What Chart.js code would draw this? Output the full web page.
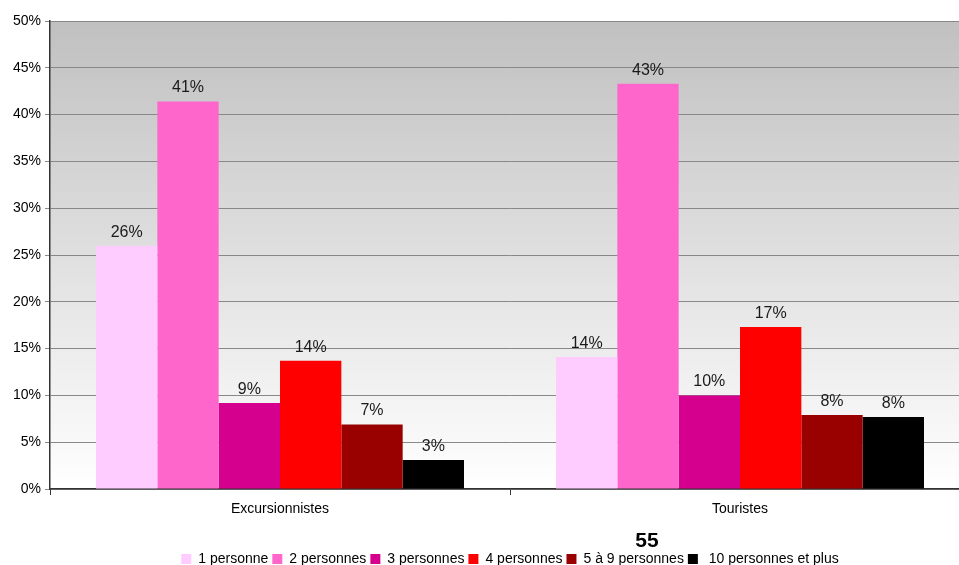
<!DOCTYPE html>
<html>
<head>
<meta charset="utf-8">
<script src="https://cdn.jsdelivr.net/npm/chart.js@4.4.1/dist/chart.umd.min.js"></script>
<style>
  html, body { margin:0; padding:0; background:#fff; overflow:hidden; }
  #wrap { width:970px; height:565px; }
</style>
</head>
<body>
<div id="wrap"><canvas id="c" width="970" height="565"></canvas></div>
<script>
// categories + series (valeurs en %)
const categories = ['Excursionnistes', 'Touristes'];
const seriesNames = ['1 personne', '2 personnes', '3 personnes', '4 personnes', '5 à 9 personnes', ' 10 personnes et plus'];
const seriesColors = ['#ffccff', '#ff66cc', '#d6008f', '#ff0000', '#990000', '#000000'];
const val1 = [26.0, 14.1];
const val2 = [41.4, 43.3];
const val3 = [9.2, 10.0];
const val4 = [13.7, 17.3];
const val5 = [6.9, 7.9];
const val10 = [3.1, 7.7];
const seriesValues = [val1, val2, val3, val4, val5, val10];
const yTicks = [0, 5, 10, 15, 20, 25, 30, 35, 40, 45, 50];
const pageNumber = '55';

const FONT = '"Liberation Sans", Arial, sans-serif';

// fond dégradé gris -> blanc dans la zone du graphique
const bgPlugin = {
  id:'bgGrad',
  beforeDraw(chart){
    const {ctx, chartArea:a} = chart;
    const g = ctx.createLinearGradient(0, a.top, 0, a.bottom);
    g.addColorStop(0, '#c0c0c0');
    g.addColorStop(1, '#ffffff');
    ctx.save();
    ctx.fillStyle = g;
    ctx.fillRect(a.left, a.top, a.right - a.left, a.bottom - a.top);
    ctx.restore();
  }
};

// étiquettes au-dessus des barres + numéro de page
const labelPlugin = {
  id:'barLabels',
  afterDatasetsDraw(chart){
    const ctx = chart.ctx;
    ctx.save();
    ctx.font = '16px ' + FONT;
    ctx.fillStyle = '#1a1a1a';
    ctx.textAlign = 'center';
    ctx.textBaseline = 'alphabetic';
    chart.data.datasets.forEach((ds, i)=>{
      chart.getDatasetMeta(i).data.forEach((bar, j)=>{
        ctx.fillText(Math.round(ds.data[j]) + '%', bar.x, bar.y - 9);
      });
    });
    ctx.restore();
  },
  afterDraw(chart){
    const ctx = chart.ctx;
    ctx.save();
    ctx.font = 'bold 21px ' + FONT;
    ctx.fillStyle = '#000';
    ctx.textAlign = 'center';
    ctx.textBaseline = 'alphabetic';
    ctx.fillText(pageNumber, 647, 547);
    ctx.restore();
  }
};

new Chart(document.getElementById('c'), {
  type:'bar',
  data:{
    labels: categories,
    datasets: seriesNames.map((name, i)=>({
      label: name,
      data: seriesValues[i],
      backgroundColor: seriesColors[i],
      borderWidth: 0,
      categoryPercentage: 0.8,
      barPercentage: 1.0
    }))
  },
  options:{
    responsive:false,
    animation:false,
    layout:{ padding:{ top:21, left:0, right:0, bottom:-11 } },
    plugins:{
      tooltip:{ enabled:false },
      legend:{
        position:'bottom',
        fullSize:false,
        labels:{
          boxWidth:10, boxHeight:10, padding:4,
          color:'#000',
          font:{ family:FONT, size:14 }
        }
      }
    },
    scales:{
      x:{
        offset:true,
        grid:{ offset:true, drawOnChartArea:false, drawTicks:true, tickLength:6, color:'#333' },
        border:{ color:'#333', width:1.5 },
        ticks:{ color:'#000', padding:6, font:{ family:FONT, size:14 } },
        afterFit(scale){ scale.height = 59; }
      },
      y:{
        min:0, max:50,
        afterBuildTicks(scale){ scale.ticks = yTicks.map(v=>({ value:v })); },
        grid:{ color:'#888', tickLength:5, drawTicks:true },
        border:{ color:'#333', width:1.5 },
        ticks:{ color:'#000', padding:4, font:{ family:FONT, size:14 }, callback:(v)=> v + '%' },
        afterFit(scale){ scale.width = 50; }
      }
    }
  },
  plugins:[bgPlugin, labelPlugin]
});
</script>
</body>
</html>
